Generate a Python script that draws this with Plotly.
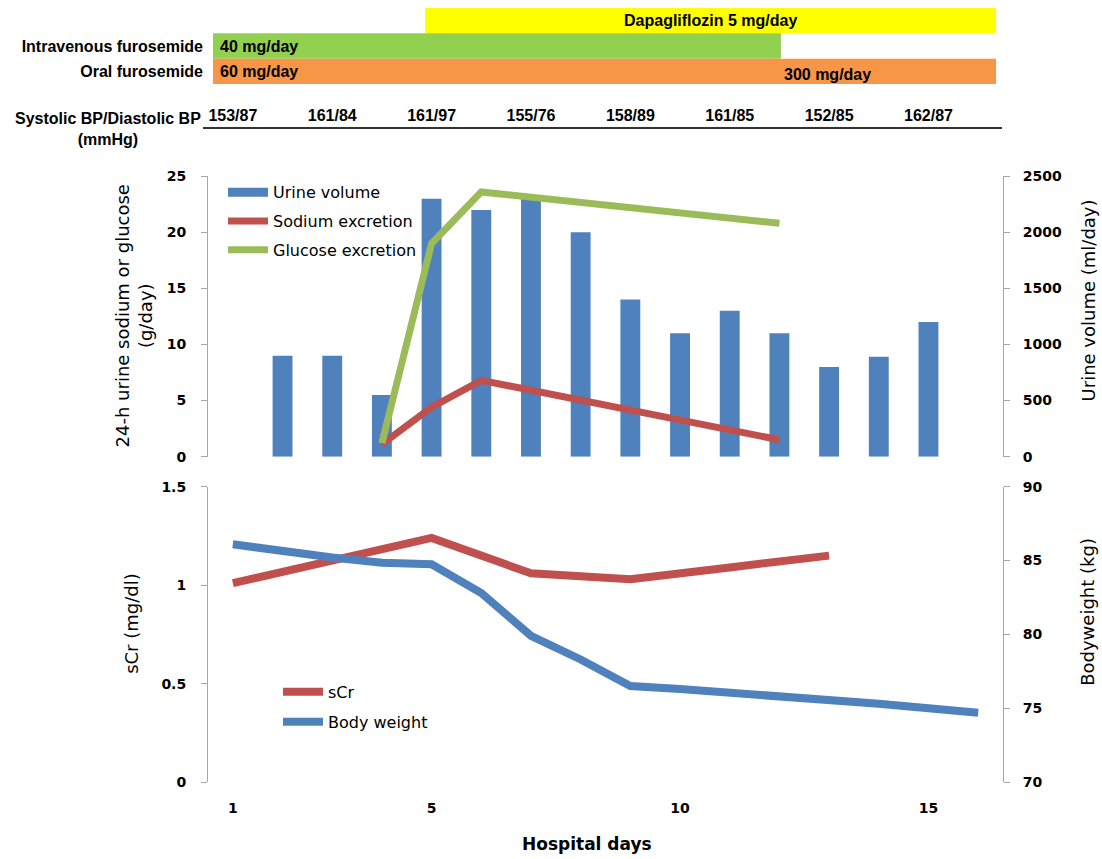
import plotly.graph_objects as go

# ---------------- data ----------------
days_all = list(range(1, 17))

urine_days = list(range(2, 16))
urine_volume = [900, 900, 550, 2300, 2200, 2300, 2000, 1400, 1100, 1300, 1100, 800, 890, 1200]

excr_days = [4, 5, 6, 12]
sodium_excretion = [1.1, 4.4, 6.8, 1.5]
glucose_excretion = [1.2, 19.0, 23.6, 20.8]

scr_days = [1, 3, 5, 7, 9, 11, 13]
scr_values = [1.01, 1.13, 1.24, 1.06, 1.03, 1.09, 1.15]

bw_days = days_all
bw_values = [86.1, 85.6, 85.2, 84.85, 84.75, 82.8, 79.9, 78.3, 76.5, 76.3,
             76.05, 75.9, 75.6, 75.3, 75.0, 74.7]

drug_rows = [0, 1, 2]
drug_names = ["", "Intravenous furosemide", "Oral furosemide"]
drug_start = [4.87, 0.6, 0.6]
drug_end = [16.36, 12.03, 16.36]
drug_colors = ["#FFFF00", "#92D050", "#F79646"]

bp_days = [1, 3, 5, 7, 9, 11, 13, 15]
bp_values = ["153/87", "161/84", "161/97", "155/76", "158/89", "161/85", "152/85", "162/87"]

x_ticks = [1, 5, 10, 15]

# ---------------- helpers (layout only) ----------------
W, H = 1102, 859
SY, OY = 0.98, 8.0   # observed vertical mapping of the photographed page


def PX(p):
    return p / W


def PY(p):
    q = (p - OY) / SY
    return min(1.0, max(0.0, 1 - q / H))


DOM_X = [PX(208), PX(1003)]
XR = [0.5, 16.5]

BLUE = "#4F81BD"
RED = "#C0504D"
GREEN = "#9BBB59"
AXC = "#A6A6A6"
CHART_FONT = "DejaVu Sans"
HDR_FONT = "Liberation Sans, Arial"
HDR_TXT = dict(family=HDR_FONT, size=16, color="black", weight="bold")

fig = go.Figure()

# urine volume bars (base axis of top plot)
fig.add_trace(go.Bar(x=urine_days, y=urine_volume, width=0.4, name="Urine volume",
                     marker=dict(color=BLUE, line=dict(width=0)), showlegend=False,
                     xaxis="x2", yaxis="y"))
# legend key for the bars (wide rectangle like the original)
fig.add_trace(go.Scatter(x=[None], y=[None], mode="lines", name="Urine volume",
                         line=dict(color=BLUE, width=9), xaxis="x2", yaxis="y",
                         legend="legend", legendgroup="a"))
fig.add_trace(go.Scatter(x=excr_days, y=sodium_excretion, mode="lines", name="Sodium excretion",
                         line=dict(color=RED, width=7), xaxis="x2", yaxis="y2",
                         legend="legend", legendgroup="b"))
fig.add_trace(go.Scatter(x=excr_days, y=glucose_excretion, mode="lines", name="Glucose excretion",
                         line=dict(color=GREEN, width=7), xaxis="x2", yaxis="y2",
                         legend="legend", legendgroup="c"))

# bottom plot
fig.add_trace(go.Scatter(x=scr_days, y=scr_values, mode="lines", name="sCr",
                         line=dict(color=RED, width=8), xaxis="x", yaxis="y3",
                         legend="legend2", legendgroup="d"))
fig.add_trace(go.Scatter(x=bw_days, y=bw_values, mode="lines", name="Body weight",
                         line=dict(color=BLUE, width=8), xaxis="x", yaxis="y4",
                         legend="legend2", legendgroup="e"))

# header drug bars
fig.add_trace(go.Bar(y=drug_rows, x=[e - s for s, e in zip(drug_start, drug_end)], base=drug_start,
                     orientation="h", width=1.0, marker=dict(color=drug_colors, line=dict(width=0)),
                     xaxis="x3", yaxis="y5", showlegend=False, hoverinfo="skip"))

# BP row
fig.add_trace(go.Scatter(x=bp_days, y=[0] * len(bp_days), mode="text", text=bp_values,
                         textfont=HDR_TXT, xaxis="x4", yaxis="y6", showlegend=False, hoverinfo="skip"))

tickfont = dict(family=CHART_FONT, size=14, color="black", weight="bold")
yax_common = dict(showgrid=False, zeroline=False, showline=True, linecolor=AXC, linewidth=1,
                  ticks="outside", ticklen=6, tickcolor=AXC, tickfont=tickfont)

annotations = [
    dict(text="Dapagliflozin 5 mg/day", x=(drug_start[0] + drug_end[0]) / 2, y=0, xref="x3", yref="y5",
         xanchor="center", yanchor="middle", showarrow=False, font=HDR_TXT),
    dict(text="40 mg/day", x=0.7, y=1, xref="x3", yref="y5", xanchor="left", yanchor="middle",
         showarrow=False, font=HDR_TXT),
    dict(text="60 mg/day", x=0.7, y=2, xref="x3", yref="y5", xanchor="left", yanchor="middle",
         showarrow=False, font=HDR_TXT),
    dict(text="300 mg/day", x=12.05, y=2, xref="x3", yref="y5", xanchor="left", yanchor="middle",
         yshift=-3, showarrow=False, font=HDR_TXT),
    dict(text="Systolic BP/Diastolic BP<br>(mmHg)", x=PX(203), y=PY(108), xref="paper", yref="paper",
         xanchor="right", yanchor="top", align="center", showarrow=False, font=HDR_TXT),
    dict(text="24-h urine sodium or glucose<br>(g/day)", x=PX(134), y=PY(316), xref="paper", yref="paper",
         xanchor="center", yanchor="middle", textangle=-90, showarrow=False, align="center",
         font=dict(family=CHART_FONT, size=18, color="black")),
    dict(text="Urine volume (ml/day)", x=PX(1088), y=PY(300), xref="paper", yref="paper",
         xanchor="center", yanchor="middle", textangle=-90, showarrow=False,
         font=dict(family=CHART_FONT, size=18, color="black")),
    dict(text="sCr (mg/dl)", x=PX(132), y=PY(623), xref="paper", yref="paper",
         xanchor="center", yanchor="middle", textangle=-90, showarrow=False,
         font=dict(family=CHART_FONT, size=18, color="black")),
    dict(text="Bodyweight (kg)", x=PX(1088), y=PY(611), xref="paper", yref="paper",
         xanchor="center", yanchor="middle", textangle=-90, showarrow=False,
         font=dict(family=CHART_FONT, size=18, color="black")),
    dict(text="Hospital days", x=PX(587), y=PY(843), xref="paper", yref="paper",
         xanchor="center", yanchor="middle", showarrow=False,
         font=dict(family=CHART_FONT, size=17, color="black", weight="bold")),
]

fig.update_layout(
    width=W, height=H, margin=dict(l=0, r=0, t=0, b=0),
    paper_bgcolor="white", plot_bgcolor="rgba(0,0,0,0)",
    showlegend=True,
    barmode="overlay",
    xaxis=dict(domain=DOM_X, range=XR, anchor="y3", tickvals=x_ticks, ticks="", showline=False,
               showgrid=False, zeroline=False, tickfont=tickfont, ticklabelstandoff=16),
    xaxis2=dict(domain=DOM_X, range=XR, anchor="y", showticklabels=False, ticks="",
                showline=False, showgrid=False, zeroline=False),
    yaxis=dict(domain=[PY(456), PY(176)], range=[0, 2500], dtick=500, side="right", anchor="x2",
               ticklabelstandoff=10, **yax_common),
    yaxis2=dict(range=[0, 25], dtick=5, side="left", overlaying="y", anchor="x2",
                ticklabelstandoff=12, **yax_common),
    yaxis3=dict(domain=[PY(781), PY(486)], range=[0, 1.5], dtick=0.5, side="left", anchor="x",
                ticklabelstandoff=12, **yax_common),
    yaxis4=dict(range=[70, 90], dtick=5, side="right", overlaying="y3", anchor="x",
                ticklabelstandoff=10, **yax_common),
    xaxis3=dict(domain=DOM_X, range=XR, anchor="y5", visible=False),
    yaxis5=dict(domain=[PY(84), PY(7)], range=[2.5, -0.5], anchor="x3", tickvals=drug_rows,
                ticktext=drug_names, ticks="", showline=False, showgrid=False, zeroline=False,
                tickfont=HDR_TXT, ticklabelstandoff=4),
    xaxis4=dict(domain=[PX(203), PX(1002)], range=[0.5 + (203 - 208) / 49.69, 0.5 + (1002 - 208) / 49.69],
                anchor="y6", showline=True, linecolor="#333333", linewidth=2, ticks="",
                showticklabels=False, showgrid=False, zeroline=False),
    yaxis6=dict(domain=[PY(127), PY(107)], range=[-1, 1], anchor="x4", visible=False),
    legend=dict(x=PX(223), y=PY(175), xanchor="left", yanchor="top", traceorder="grouped",
                tracegroupgap=5, itemwidth=40, bgcolor="rgba(0,0,0,0)",
                font=dict(family=CHART_FONT, size=16, color="black")),
    legend2=dict(x=PX(278), y=PY(674), xanchor="left", yanchor="top", traceorder="grouped",
                 tracegroupgap=6, itemwidth=40, bgcolor="rgba(0,0,0,0)",
                 font=dict(family=CHART_FONT, size=16, color="black")),
    annotations=annotations,
)

fig.write_html("out.html", config={"displayModeBar": False},
               post_script="document.body.style.margin='0';document.body.style.padding='0';"
                           "document.documentElement.style.overflow='hidden';")
